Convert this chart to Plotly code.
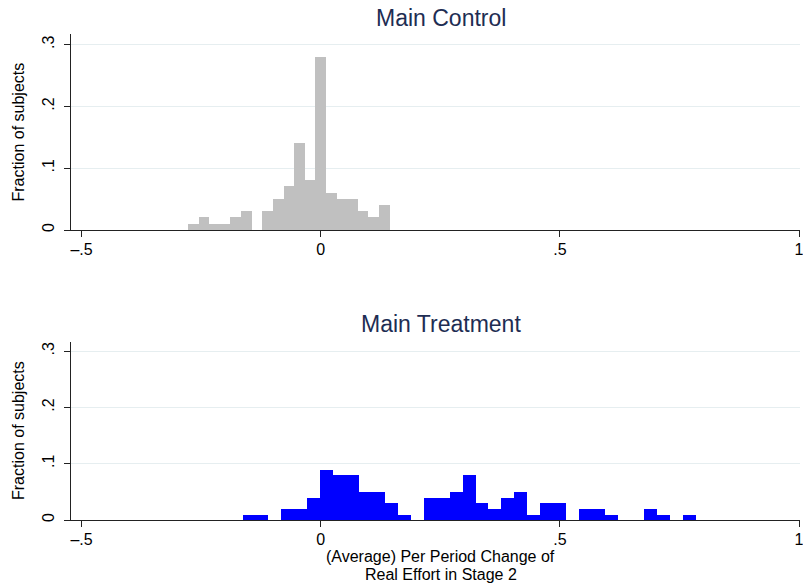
import plotly.graph_objects as go

# ---------------- data ----------------
# Main Control histogram: bin centers and fraction of subjects
top_bins = [-0.2664, -0.2442, -0.2220, -0.1998, -0.1776, -0.1554, -0.1332,
            -0.1110, -0.0888, -0.0666, -0.0444, -0.0222, 0.0000, 0.0222,
            0.0444, 0.0666, 0.0888, 0.1110, 0.1332]
top_frac = [0.01, 0.02, 0.01, 0.01, 0.02, 0.03, 0.00,
            0.03, 0.05, 0.07, 0.14, 0.08, 0.28, 0.06,
            0.05, 0.05, 0.03, 0.02, 0.04]

# Main Treatment histogram: bin centers and fraction of subjects
bot_bins = [-0.1499, -0.1228, -0.0957, -0.0687, -0.0416, -0.0146, 0.0125,
            0.0395, 0.0666, 0.0936, 0.1207, 0.1478, 0.1748, 0.2019,
            0.2289, 0.2560, 0.2831, 0.3101, 0.3372, 0.3642, 0.3913,
            0.4184, 0.4454, 0.4725, 0.4995, 0.5266, 0.5537, 0.5807,
            0.6078, 0.6348, 0.6619, 0.6890, 0.7160, 0.7431, 0.7701]
bot_frac = [0.01, 0.01, 0.00, 0.02, 0.02, 0.04, 0.09,
            0.08, 0.08, 0.05, 0.05, 0.03, 0.01, 0.00,
            0.04, 0.04, 0.05, 0.08, 0.03, 0.02, 0.04,
            0.05, 0.01, 0.03, 0.03, 0.00, 0.02, 0.02,
            0.01, 0.00, 0.00, 0.02, 0.01, 0.00, 0.01]

x_tickvals = [-0.5, 0, 0.5, 1]
x_ticktext = ["–.5", "0", ".5", "1"]
y_tickvals = [0, 0.1, 0.2, 0.3]
y_ticktext = ["0", ".1", ".2", ".3"]

panel_titles = ["Main Control", "Main Treatment"]
y_title = "Fraction of subjects"
x_title_lines = ["(Average) Per Period Change of", "Real Effort in Stage 2"]

# ---------------- style ----------------
W, H = 803, 583
BIN_W_TOP = 0.0222
BIN_W_BOT = 0.02706
FONT = "Liberation Sans, Arial, Helvetica, sans-serif"
TITLE_COLOR = "#1e2d53"
GRID = "#e6eef0"

def px_x(p):
    return p / W

def px_y(p):
    return 1 - p / H

fig = go.Figure()
fig.add_trace(go.Bar(x=top_bins, y=top_frac, width=BIN_W_TOP,
                     marker=dict(color="#c0c0c0", line=dict(width=0)),
                     xaxis="x", yaxis="y", showlegend=False))
fig.add_trace(go.Bar(x=bot_bins, y=bot_frac, width=BIN_W_BOT,
                     marker=dict(color="#0000ff", line=dict(width=0)),
                     xaxis="x2", yaxis="y2", showlegend=False))

xdom = [px_x(71), px_x(800)]
xrange_ = [-0.522, 1.002]
yrange_ = [0, 0.317]

def xaxis(anchor):
    return dict(domain=xdom, range=xrange_, anchor=anchor,
                tickmode="array", tickvals=x_tickvals, ticktext=x_ticktext,
                ticks="outside", ticklen=6, tickcolor="#222", tickwidth=1,
                ticklabelstandoff=-1, ticklabeloverflow="allow",
                showline=True, linecolor="#222", linewidth=1,
                showgrid=False, zeroline=False, automargin=False,
                tickfont=dict(family=FONT, size=16, color="#000"))

def yaxis(anchor, dom):
    return dict(domain=dom, range=yrange_, anchor=anchor,
                tickmode="array", tickvals=y_tickvals, ticktext=y_ticktext,
                tickangle=-90, ticklabelstandoff=4,
                ticks="outside", ticklen=6, tickcolor="#222", tickwidth=1,
                showline=True, linecolor="#222", linewidth=1,
                showgrid=True, gridcolor=GRID, gridwidth=1,
                zeroline=False, automargin=False,
                tickfont=dict(family=FONT, size=16, color="#000"))

fig.update_layout(
    width=W, height=H,
    margin=dict(l=0, r=0, t=0, b=0),
    paper_bgcolor="white", plot_bgcolor="white",
    showlegend=False, bargap=0,
    xaxis=xaxis("y"),
    yaxis=yaxis("x", [px_y(230), px_y(34.3)]),
    xaxis2=xaxis("y2"),
    yaxis2=yaxis("x2", [px_y(520), px_y(341.7)]),
)

ann = []
# panel titles
for t, yc in zip(panel_titles, [18.5, 324]):
    ann.append(dict(text=t, x=px_x(440.5), y=px_y(yc), xref="paper", yref="paper",
                    xanchor="center", yanchor="middle", showarrow=False,
                    font=dict(family=FONT, size=23, color=TITLE_COLOR)))
# y titles
for yc in [132, 430.5]:
    ann.append(dict(text=y_title, x=px_x(18.5), y=px_y(yc), xref="paper", yref="paper",
                    xanchor="center", yanchor="middle", showarrow=False, textangle=-90,
                    font=dict(family=FONT, size=16, color="#000")))
# x title (two lines)
for line, yc in zip(x_title_lines, [556, 574]):
    ann.append(dict(text=line, x=px_x(440.5), y=px_y(yc), xref="paper", yref="paper",
                    xanchor="center", yanchor="middle", showarrow=False,
                    font=dict(family=FONT, size=16, color="#000")))
fig.update_layout(annotations=ann)

# remove the default page margin so the figure sits at the window's top-left corner
post = ("document.body.style.margin='0px';"
        "var gd=document.getElementById('{plot_id}');"
        "Plotly.relayout(gd,{'xaxis.ticklabeloverflow':'allow','xaxis2.ticklabeloverflow':'allow'});")

fig.write_html("out.html", post_script=post, config={"displayModeBar": False})
